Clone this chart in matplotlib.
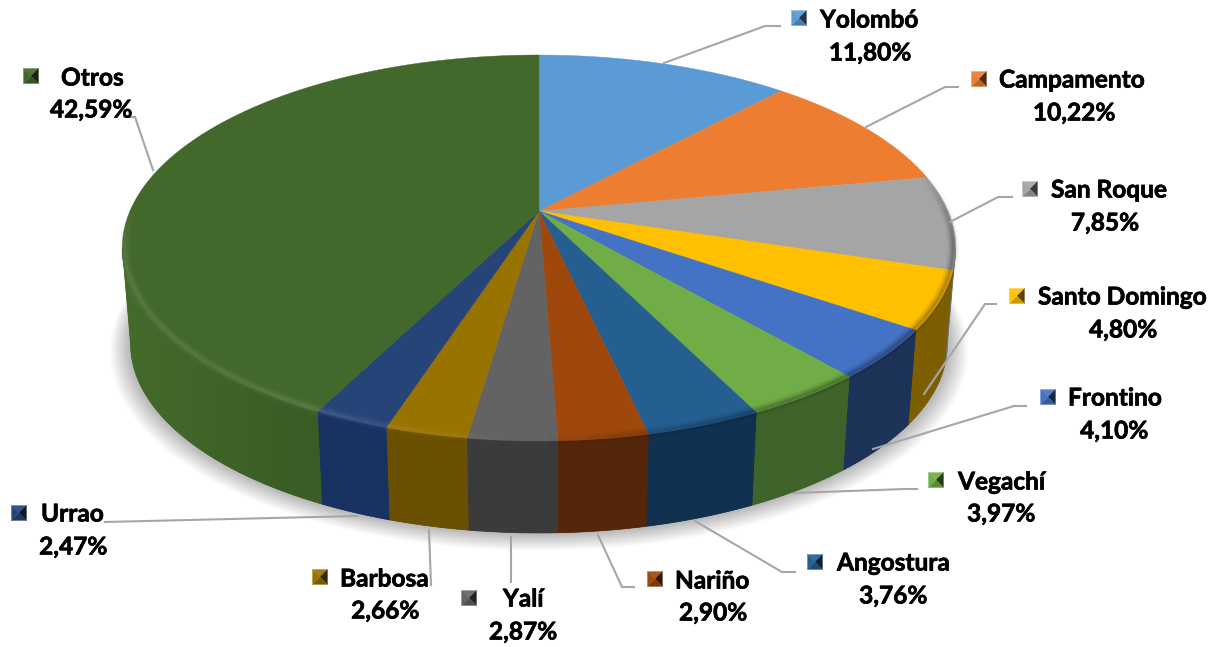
import numpy as np
import matplotlib
matplotlib.use('Agg')
import matplotlib.pyplot as plt
import matplotlib.patheffects as pe
from matplotlib.collections import LineCollection
from matplotlib.colors import to_rgb
from matplotlib.patches import Polygon

# Data
names = ['Yolombó', 'Campamento', 'San Roque', 'Santo Domingo', 'Frontino', 'Vegachí',
         'Angostura', 'Nariño', 'Yalí', 'Barbosa', 'Urrao', 'Otros']
values = [11.80, 10.22, 7.85, 4.80, 4.10, 3.97, 3.76, 2.90, 2.87, 2.66, 2.47, 42.59]
top_colors = ['#5b9bd5', '#ed7d31', '#a5a5a5', '#ffc000', '#4472c4', '#70ad47',
              '#255e91', '#9e480e', '#636363', '#997300', '#264478', '#43682b']
side_colors = ['#3d6a94', '#a5561f', '#6e6e6e', '#7d5e00', '#1d3358', '#3f6329',
               '#10314f', '#54260a', '#3b3b3b', '#6a5000', '#183262', '#3b5c25']

# Label layout: key centre, name left edge, percent centre, line y's
key_pos = [(799, 18), (979, 79), (1030, 189), (1017, 296), (1048, 397), (936, 480),
           (815, 562), (655, 579), (469, 598), (320, 577), (19, 513), (31, 76)]
name_x = [820, 999, 1051, 1038, 1068, 958, 837, 675, 503, 340, 41, 61]
name_y = [20, 80, 190, 297, 398, 482, 563, 581, 599, 579, 514, 78]
pct_x = [870, 1074, 1105, 1123, 1114, 1001, 893, 713, 523, 385, 73, 91]
pct_y = [53, 113, 223, 330, 431, 514, 596, 613, 632, 611, 547, 110]

# Leader lines
leaders = [[(664, 63), (765, 26), (780, 26)],
           [(866, 127), (945, 87), (958, 87)],
           [(950, 222), (998, 197), (1012, 197)],
           [(924, 394), (985, 304), (996, 304)],
           [(873, 449), (1014, 406), (1026, 406)],
           [(794, 493), (905, 489), (917, 489)],
           [(695, 521), (782, 572), (795, 572)],
           [(598, 535), (622, 587), (634, 587)],
           [(511, 537), (511, 582)],
           [(429, 530), (431, 585)],
           [(357, 516), (105, 522)],
           [(153, 170), (135, 117), (124, 117)]]

# Pie geometry in pixels (perspective projection of a circle)
CX, CY = 539, 211
A, B, K = 185.9, 409, 0.1917
BOTTOM_DY, BOTTOM_S = 96.6, 0.98


def project(t, r=1.0, bottom=False):
    x = r * np.sin(t)
    y = r * np.cos(t)
    w = 1 + K * y
    s = BOTTOM_S if bottom else 1.0
    dy = BOTTOM_DY if bottom else 0
    return np.column_stack([CX + s * B * x / w, CY + dy - s * A * y / w])


def shade(color, f):
    c = np.array(to_rgb(color))
    if f <= 1:
        return tuple(c * f)
    return tuple(c + (1 - c) * (f - 1))


fig = plt.figure(figsize=(12.22, 6.47), dpi=100)
ax = fig.add_axes([0, 0, 1, 1])
ax.axis('off')

edges = np.radians(np.cumsum([0] + values) / sum(values) * 360)

# Soft shadow under the pie
ring = np.linspace(0, 2 * np.pi, 300)
base = project(ring, bottom=True)
mid_y = CY + BOTTOM_DY
for i in range(18, 0, -1):
    grow = 1 + i * 0.0028
    pts = np.column_stack([CX + (base[:, 0] - CX) * grow,
                           mid_y + (base[:, 1] - mid_y) * grow + i * 0.35])
    ax.fill(pts[:, 0], pts[:, 1], color='black', alpha=0.016, lw=0, zorder=1)

# Outer wall: only the front part shows, so clamp each slice to the widest points of the disc
wall_from = np.arccos(-K)
wall_to = 2 * np.pi - wall_from
for t0, t1, col in zip(edges[:-1], edges[1:], side_colors):
    a0, a1 = max(t0, wall_from), min(t1, wall_to)
    if a1 <= a0:
        continue
    ts = np.linspace(a0, a1, max(int((a1 - a0) * 80), 2))
    pts = np.vstack([project(ts), project(ts[::-1], bottom=True)])
    x0, x1 = pts[:, 0].min(), pts[:, 0].max()
    y0, y1 = pts[:, 1].min(), pts[:, 1].max()
    xs = np.linspace(x0, x1, 200)
    f = 1 + 0.16 * np.clip((300 - xs) / 170, 0, 1)
    grad = np.clip(np.array(to_rgb(col))[None, :] * f[:, None], 0, 1)[None, :, :]
    patch = Polygon(pts, closed=True, fc=col, ec=col, lw=0.5, zorder=2)
    ax.add_patch(patch)
    im = ax.imshow(grad, extent=(x0, x1, y1, y0), aspect='auto', interpolation='bilinear', zorder=2.1)
    im.set_clip_path(patch)

ax.set_xlim(0, 1222)
ax.set_ylim(647, 0)

# Top face
for t0, t1, col in zip(edges[:-1], edges[1:], top_colors):
    ts = np.linspace(t0, t1, max(int((t1 - t0) * 80), 2))
    pts = np.vstack([[CX, CY], project(ts)])
    ax.fill(pts[:, 0], pts[:, 1], color=col, ec=col, lw=0.3, zorder=3)

# Bevel along the rim: soft light on the front left, soft dark on the right
for t0, t1, col in zip(edges[:-1], edges[1:], top_colors):
    ts = np.linspace(t0, t1, max(int((t1 - t0) * 60), 3))
    pts = project(ts, 0.994)
    segs = [[pts[j], pts[j + 1]] for j in range(len(pts) - 1)]
    for lw, a in [(8, 0.05), (5.5, 0.07), (3.5, 0.09), (1.8, 0.1)]:
        seg_cols = []
        for j in range(len(segs)):
            tm = (ts[j] + ts[j + 1]) / 2
            x, y = np.sin(tm), np.cos(tm)
            light = np.clip(-x * 2.2, 0, 1) * np.clip((0.05 - y) * 4, 0, 1)
            dark = np.clip(x * 2, 0, 1) * np.clip((0.2 - y) * 3, 0, 1)
            if light >= dark:
                seg_cols.append(shade(col, 1.4) + (a * light,))
            else:
                seg_cols.append((0, 0, 0, a * dark))
        ax.add_collection(LineCollection(segs, colors=seg_cols, linewidths=lw, zorder=4))

# Leader lines
for line in leaders:
    xs, ys = zip(*line)
    ax.plot(xs, ys, color='#a6a6a6', lw=1.5, solid_joinstyle='miter', zorder=5)

# Legend keys with the pyramid bevel, and labels
HALF = 7.5
thick = [pe.withStroke(linewidth=0.5, foreground='black')]
for i, name in enumerate(names):
    kx, ky = key_pos[i]
    col = top_colors[i]
    corners = [(kx - HALF, ky - HALF), (kx + HALF, ky - HALF), (kx + HALF, ky + HALF), (kx - HALF, ky + HALF)]
    tones = [1.08, 0.35, 0.8, 1.0]  # top, right, bottom, left
    for j in range(4):
        tri = [corners[j], corners[(j + 1) % 4], (kx, ky)]
        ax.fill(*zip(*tri), color=shade(col, tones[j]), lw=0.2, zorder=6)
    ax.text(name_x[i], name_y[i], name, family='Lato', weight='bold', fontsize=17.6,
            color='black', ha='left', va='center', zorder=7, path_effects=thick)
    ax.text(pct_x[i], pct_y[i], f'{values[i]:.2f}%'.replace('.', ','), family='Lato', weight='bold',
            fontsize=17.6, color='black', ha='center', va='center', zorder=7, path_effects=thick)

fig.savefig('out.png', dpi=100)
